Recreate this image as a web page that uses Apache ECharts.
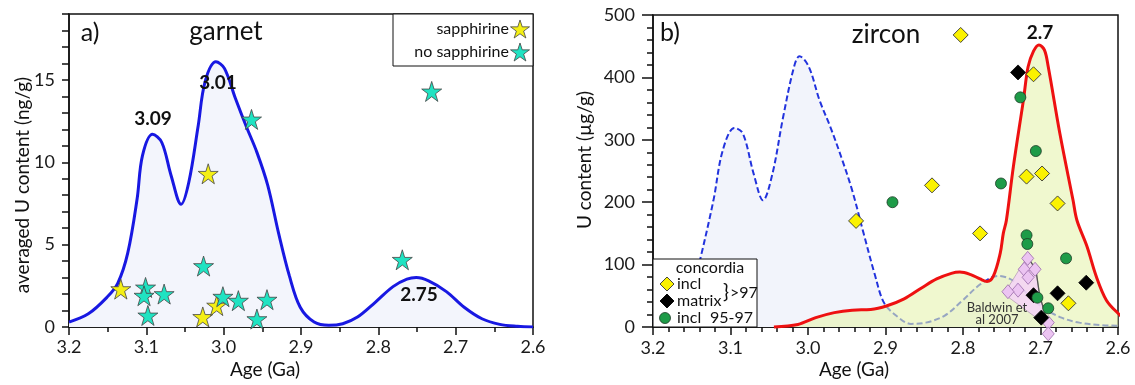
<!DOCTYPE html>
<html>
<head>
<meta charset="utf-8">
<script src="https://cdn.jsdelivr.net/npm/echarts@6/dist/echarts.min.js"></script>
<style>
html,body{margin:0;padding:0;background:#fff;}
#chart{width:1135px;height:385px;}
</style>
</head>
<body>
<div id="chart"></div>
<script>
// ---------- Panel a) garnet ----------
const garnetAge = [3.2,3.175,3.151,3.137,3.124,3.112,3.105,3.092,3.080,3.068,3.055,3.045,3.033,3.024,3.010,2.999,2.985,2.971,2.957,2.943,2.929,2.915,2.901,2.883,2.864,2.846,2.827,2.804,2.781,2.763,2.751,2.735,2.712,2.689,2.666,2.643,2.620,2.6];
const garnetU = [0.3,0.8,1.8,2.65,4.5,7.75,10.4,11.7,11.2,9.2,7.45,8.8,12.2,14.9,16.1,15.7,13.9,12.2,10.6,8.6,5.7,3.1,1.2,0.3,0.1,0.2,0.6,1.5,2.45,2.9,3.0,2.8,2.15,1.2,0.5,0.16,0.04,0];
const sapphAge = [3.133, 3.020, 3.027, 3.009];
const sapphU = [2.3, 9.3, 0.61, 1.3];
const noSapphAge = [3.101, 3.103, 3.098, 3.077, 3.026, 3.001, 2.981, 2.964, 2.957, 2.944, 2.769, 2.731];
const noSapphU = [2.4, 1.9, 0.7, 2.0, 3.7, 1.84, 1.6, 12.6, 0.48, 1.66, 4.08, 14.3];
const peakLabelsA = ['3.09', '3.01', '2.75'];

// ---------- Panel b) zircon ----------
const dashAge = [3.2,3.17,3.15,3.139,3.122,3.110,3.095,3.084,3.070,3.058,3.046,3.032,3.018,3.011,2.999,2.985,2.971,2.957,2.943,2.928,2.914,2.902,2.886,2.867,2.848,2.824,2.801,2.777,2.754,2.735,2.716,2.697,2.673,2.650,2.621,2.6];
const dashU = [8,25,55,109,203,283,319,310,245,203,245,337,417,434,417,363,320,272,219,149,85,39,18,5,7,18,42,69,82,74,52,31,15,7,3,2];
const zirAge = [3.044,3.013,2.990,2.966,2.943,2.919,2.898,2.876,2.853,2.834,2.815,2.804,2.790,2.778,2.769,2.761,2.752,2.748,2.744,2.735,2.722,2.716,2.709,2.702,2.695,2.690,2.675,2.658,2.653,2.640,2.628,2.615,2.600,2.589,2.578];
const zirU = [0,4,15,23,27,28,34,45,63,77,86,88,84,77,73,81,118,150,171,257,364,417,442,452,444,417,310,203,171,129,81,43,22,11,6];
const inclAge = [2.803, 2.709, 2.938, 2.840, 2.778, 2.718, 2.698, 2.678, 2.664];
const inclU = [468, 405, 170, 227, 150, 241, 246, 198, 38];
const matrixAge = [2.729, 2.709, 2.699, 2.678, 2.641];
const matrixU = [408, 51, 15, 54, 71];
const incl9597Age = [2.726, 2.706, 2.751, 2.891, 2.718, 2.717, 2.667, 2.704, 2.690];
const incl9597U = [368, 282, 230, 200, 147, 133, 110, 47, 30];
const baldwinAge = [2.7165, 2.721, 2.707, 2.716, 2.729, 2.742, 2.690, 2.690];
const baldwinU = [110, 92.5, 92.5, 79.6, 59, 56.6, 7, -11];
const baldwinPolyAge = [2.745, 2.717, 2.706, 2.701, 2.692, 2.689, 2.744];
const baldwinPolyU = [57, 113, 92, 50, 12, 0, 50];

const zip = (a, b) => a.map((v, i) => [v, b[i]]);
const starPath = 'path://M50,0 L61.2,34.5 L97.6,34.5 L68.2,55.9 L79.4,90.5 L50,69.1 L20.6,90.5 L31.8,55.9 L2.4,34.5 L38.8,34.5 Z';
const starUnit = [[50,0],[61.2,34.5],[97.6,34.5],[68.2,55.9],[79.4,90.5],[50,69.1],[20.6,90.5],[31.8,55.9],[2.4,34.5],[38.8,34.5]];
function starPts(cx, cy, size) {
  return starUnit.map(p => [cx + (p[0] - 50) / 95.2 * size, cy + (p[1] - 45.25) / 90.5 * size * 0.95]);
}
const FONT = 'Lato, "Open Sans", sans-serif';
const AX = '#111';
const YEL = '#f4ef14', CYAN = '#20e3c2', GREEN = '#1e9b48';

function txt(x, y, text, size, opts) {
  opts = opts || {};
  return {
    type: 'text', x: x, y: y, z: 100, rotation: opts.rot || 0,
    style: {
      text: text, x: 0, y: 0,
      font: (opts.bold ? 'bold ' : '') + size + 'px ' + FONT,
      fill: opts.color || '#111',
      textAlign: opts.align || 'center', align: opts.align || 'center',
      textVerticalAlign: 'middle', verticalAlign: 'middle'
    }
  };
}

const chart = echarts.init(document.getElementById('chart'), null, {renderer: 'canvas'});
const xAxisBase = (grid, minorSplit, majorLen, minorLen, margin) => ({
  gridIndex: grid, type: 'value', min: 2.6, max: 3.2, interval: 0.1, inverse: true,
  axisLine: {show: true, onZero: false, lineStyle: {color: AX, width: 1.5}},
  axisTick: {show: true, length: majorLen, lineStyle: {color: AX, width: 1.5}},
  minorTick: {show: true, splitNumber: minorSplit, length: minorLen, lineStyle: {color: AX, width: 1.5}},
  splitLine: {show: false}, minorSplitLine: {show: false},
  axisLabel: {formatter: v => v.toFixed(1), color: '#1a1a1a', fontSize: 18, fontFamily: FONT, margin: margin}
});

chart.setOption({
  animation: false,
  textStyle: {fontFamily: FONT},
  grid: [
    {left: 69, top: 14, width: 464, height: 313, show: true, borderColor: AX, borderWidth: 1.5, backgroundColor: 'transparent'},
    {left: 653, top: 15, width: 465, height: 312, show: true, borderColor: AX, borderWidth: 1.5, backgroundColor: 'transparent'}
  ],
  xAxis: [xAxisBase(0, 2, 8, 5, 11), xAxisBase(1, 5, 8, 5, 12)],
  yAxis: [
    {gridIndex: 0, type: 'value', min: 0, max: 19, interval: 1,
     axisLine: {show: true, lineStyle: {color: AX, width: 1.5}},
     axisTick: {show: true, length: 7, lineStyle: {color: AX, width: 1.5}},
     splitLine: {show: false},
     axisLabel: {formatter: v => (v % 5 === 0 ? String(v) : ''), color: '#1a1a1a', fontSize: 18, fontFamily: FONT, margin: 14}},
    {gridIndex: 1, type: 'value', min: 0, max: 500, interval: 100,
     axisLine: {show: true, lineStyle: {color: AX, width: 1.5}},
     axisTick: {show: true, length: 11, lineStyle: {color: AX, width: 1.5}},
     minorTick: {show: true, splitNumber: 5, length: 6, lineStyle: {color: AX, width: 1.5}},
     splitLine: {show: false}, minorSplitLine: {show: false},
     axisLabel: {color: '#1a1a1a', fontSize: 18, fontFamily: FONT, margin: 18}}
  ],
  series: [
    // panel a
    {type: 'line', xAxisIndex: 0, yAxisIndex: 0, data: zip(garnetAge, garnetU), smooth: 0.35, symbol: 'none',
     lineStyle: {color: '#1818e2', width: 3}, areaStyle: {color: '#f3f5fc', opacity: 1}, z: 2},
    {type: 'scatter', xAxisIndex: 0, yAxisIndex: 0, data: zip(sapphAge, sapphU), symbol: starPath, symbolSize: 20,
     itemStyle: {color: YEL, borderColor: '#444', borderWidth: 0.8, opacity: 1}, z: 5},
    {type: 'scatter', xAxisIndex: 0, yAxisIndex: 0, data: zip(noSapphAge, noSapphU), symbol: starPath, symbolSize: 20,
     itemStyle: {color: CYAN, borderColor: '#444', borderWidth: 0.8, opacity: 1}, z: 6},
    // panel b
    {type: 'line', xAxisIndex: 1, yAxisIndex: 1, data: zip(dashAge, dashU), smooth: 0.35, symbol: 'none',
     lineStyle: {color: '#2233dd', width: 2, type: [6, 3]}, areaStyle: {color: '#f2f4fb', opacity: 1}, z: 2},
    {type: 'line', xAxisIndex: 1, yAxisIndex: 1, data: zip(zirAge, zirU), smooth: 0.35, symbol: 'none',
     lineStyle: {width: 0, opacity: 0}, areaStyle: {color: 'rgb(230,243,175)', opacity: 0.6}, z: 3},
    {type: 'line', xAxisIndex: 1, yAxisIndex: 1, data: zip(zirAge, zirU), smooth: 0.35, symbol: 'none', clip: false,
     lineStyle: {color: '#ee1111', width: 3}, z: 4},
    {type: 'custom', xAxisIndex: 1, yAxisIndex: 1, z: 5, clip: false,
     data: [[baldwinPolyAge[1], baldwinPolyU[1]]],
     renderItem: function (params, api) {
       const pts = baldwinPolyAge.map((a, i) => api.coord([a, baldwinPolyU[i]]));
       return {type: 'group', children: [
         {type: 'polygon', shape: {points: pts}, style: {fill: 'rgba(245,210,247,0.85)', stroke: 'rgba(150,120,160,0.5)', lineWidth: 1}},
         {type: 'polyline', shape: {points: pts.slice(1, 5)}, style: {stroke: '#555', lineWidth: 1.3, fill: null}}
       ]};
     }},
    {type: 'scatter', xAxisIndex: 1, yAxisIndex: 1, data: zip(baldwinAge, baldwinU), symbol: 'diamond', symbolSize: [12, 14], clip: false,
     itemStyle: {color: '#ecc4f2', borderColor: '#9a6aaa', borderWidth: 0.8, opacity: 1}, z: 6},
    {type: 'scatter', xAxisIndex: 1, yAxisIndex: 1, data: zip(matrixAge, matrixU), symbol: 'diamond', symbolSize: [15, 15],
     itemStyle: {color: '#000', borderColor: '#000', borderWidth: 0.8, opacity: 1}, z: 7},
    {type: 'scatter', xAxisIndex: 1, yAxisIndex: 1, data: zip(incl9597Age, incl9597U), symbol: 'circle', symbolSize: 11,
     itemStyle: {color: GREEN, borderColor: '#1d3b26', borderWidth: 0.8, opacity: 1}, z: 8},
    {type: 'scatter', xAxisIndex: 1, yAxisIndex: 1, data: zip(inclAge, inclU), symbol: 'diamond', symbolSize: [15, 15],
     itemStyle: {color: '#fbf200', borderColor: '#333', borderWidth: 0.9, opacity: 1}, z: 9}
  ],
  graphic: [
    // panel a texts
    txt(90, 33, 'a)', 25),
    txt(226, 32, 'garnet', 26),
    txt(153, 119, peakLabelsA[0], 19, {bold: true}),
    txt(218, 83, peakLabelsA[1], 19, {bold: true}),
    txt(419, 295, peakLabelsA[2], 19, {bold: true}),
    txt(265, 370, 'Age (Ga)', 19),
    txt(23, 185, 'averaged U content (ng/g)', 19, {rot: Math.PI / 2}),
    // panel a legend
    {type: 'rect', z: 90, shape: {x: 393, y: 14, width: 140, height: 52}, style: {fill: '#fff', stroke: AX, lineWidth: 1}},
    txt(509, 29, 'sapphirine', 16, {align: 'right'}),
    txt(509, 52, 'no sapphirine', 16, {align: 'right'}),
    {type: 'polygon', z: 101, shape: {points: starPts(520, 29, 19)}, style: {fill: YEL, stroke: '#444', lineWidth: 0.8}},
    {type: 'polygon', z: 101, shape: {points: starPts(520, 52, 19)}, style: {fill: CYAN, stroke: '#444', lineWidth: 0.8}},
    // panel b texts
    txt(670, 33, 'b)', 25),
    txt(886, 35, 'zircon', 26),
    txt(1040, 33, '2.7', 19, {bold: true}),
    txt(854, 370, 'Age (Ga)', 19),
    txt(585, 160, 'U content (µg/g)', 19, {rot: Math.PI / 2}),
    txt(997, 308, 'Baldwin et', 13, {color: '#333'}),
    txt(997, 320, 'al 2007', 13, {color: '#333'}),
    // panel b legend
    {type: 'rect', z: 90, shape: {x: 653, y: 259, width: 104, height: 68}, style: {fill: '#fff', stroke: AX, lineWidth: 1}},
    txt(710, 268, 'concordia', 16),
    {type: 'polygon', z: 101, shape: {points: [[667, 277], [674, 284], [667, 291], [660, 284]]}, style: {fill: '#fbf200', stroke: '#333', lineWidth: 0.9}},
    txt(677, 284, 'incl', 16, {align: 'left'}),
    {type: 'polygon', z: 101, shape: {points: [[667, 294], [674, 301], [667, 308], [660, 301]]}, style: {fill: '#000', stroke: '#000', lineWidth: 0.9}},
    txt(677, 301, 'matrix', 16, {align: 'left'}),
    {type: 'circle', z: 101, shape: {cx: 665, cy: 318, r: 5.5}, style: {fill: GREEN, stroke: '#1d3b26', lineWidth: 0.8}},
    txt(677, 318, 'incl', 16, {align: 'left'}),
    txt(710, 318, '95-97', 16, {align: 'left'}),
    txt(723, 292, '}', 20, {align: 'left'}),
    txt(730, 293, '>97', 16, {align: 'left'})
  ]
});
</script>
</body>
</html>
